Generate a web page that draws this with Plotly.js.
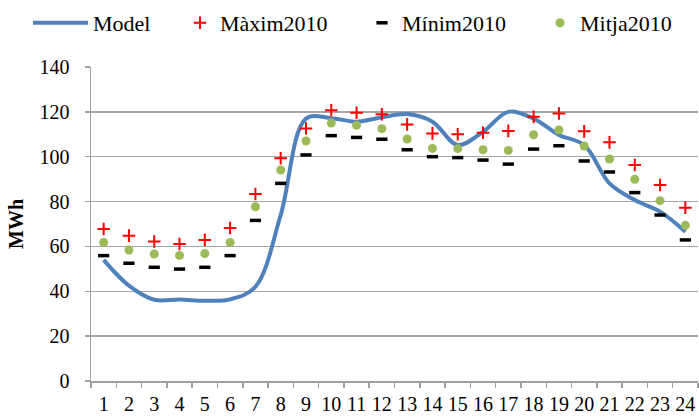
<!DOCTYPE html>
<html>
<head>
<meta charset="utf-8">
<script src="https://cdn.plot.ly/plotly-3.0.1.min.js"></script>
<style>html,body{margin:0;padding:0;background:#fff;font-family:"Liberation Serif",serif;}#chart{width:699px;height:418px;}</style>
</head>
<body>
<div id="chart"></div>
<script>
const hours = ["1","2","3","4","5","6","7","8","9","10","11","12","13","14","15","16","17","18","19","20","21","22","23","24"];
const model = [54, 42.5, 36.2, 36.3, 35.8, 36.4, 42, 74, 117, 117.2, 115.6, 117.6, 119, 115.6, 105.2, 111.1, 120, 117, 109.7, 105.2, 88.1, 80.7, 75.5, 66.6];
const maxim = [67.8, 64.8, 62.2, 61.1, 62.9, 68.2, 83.4, 99.3, 112.6, 120.7, 119.6, 118.9, 114.4, 110.4, 110, 110.7, 111.5, 117.8, 119.3, 111.3, 106.4, 96.3, 87.4, 77.3];
const minim = [55.9, 52.5, 50.7, 49.9, 50.7, 55.9, 71.6, 88.1, 100.8, 109.4, 108.6, 107.8, 103.1, 100, 99.6, 98.5, 96.7, 103.4, 104.9, 98.1, 93.2, 84, 74, 62.9];
const mitja = [61.8, 58.4, 56.6, 56, 56.8, 61.8, 77.7, 94.1, 107, 115, 114, 112.5, 107.9, 103.7, 103.6, 103.1, 102.8, 109.8, 111.9, 104.8, 99, 89.9, 80.4, 69.4];

const traces = [
  {x: hours, y: model, name: "Model", type: "scatter", mode: "lines", legend: "legend",
   line: {color: "#4F81BD", width: 4, shape: "spline", smoothing: 1}},
  {x: hours, y: maxim, name: "Màxim2010", type: "scatter", mode: "markers", legend: "legend2",
   marker: {symbol: "cross-thin", size: 9, color: "#FF0000", line: {color: "#FF0000", width: 2}}},
  {x: hours, y: minim, name: "Mínim2010", type: "scatter", mode: "markers", legend: "legend3",
   marker: {symbol: "line-ew", size: 8, color: "#000000", line: {color: "#000000", width: 3.5}}},
  {x: hours, y: mitja, name: "Mitja2010", type: "scatter", mode: "markers", legend: "legend4",
   marker: {symbol: "circle", size: 9, color: "#9BBB59"}}
];

const fam = "Liberation Serif, Times New Roman, Times, DejaVu Serif, serif";
const font = {family: fam, color: "#000", size: 20};
function leg(px, iw) {
  return {orientation: "h", xref: "container", yref: "container", x: px / 699, y: 1 - 23 / 418,
          xanchor: "left", yanchor: "middle", itemwidth: iw,
          font: {family: fam, size: 22, color: "#000"}, bgcolor: "rgba(0,0,0,0)", borderwidth: 0};
}
const layout = {
  width: 699, height: 418,
  margin: {l: 91, r: 1, t: 67, b: 37},
  paper_bgcolor: "#fff", plot_bgcolor: "#fff",
  font: font,
  showlegend: true,
  legend: leg(28, 55),
  legend2: leg(180, 30),
  legend3: leg(362, 30),
  legend4: leg(540, 30),
  xaxis: {type: "category", tickson: "boundaries", ticks: "outside", ticklen: 5, tickcolor: "#A0A0A0",
          tickwidth: 1.5, showline: true, linecolor: "#A0A0A0", linewidth: 1.5, showgrid: false,
          zeroline: false, tickfont: font, tickangle: 0, fixedrange: true, range: [-0.5, 23.5], ticklabelstandoff: 4},
  yaxis: {range: [0, 140], dtick: 20, tick0: 0, ticks: "outside", ticklen: 5, tickcolor: "#A0A0A0",
          tickwidth: 1.5, showline: true, linecolor: "#A0A0A0", linewidth: 1.5, showgrid: true,
          gridcolor: "#A6A6A6", gridwidth: 1.5, zeroline: false, tickfont: font, ticklabelstandoff: 11,
          title: {text: "<b>MWh</b>", font: {family: fam, size: 20, color: "#000"}, standoff: 10}}
};
Plotly.newPlot("chart", traces, layout, {displayModeBar: false, staticPlot: true});
</script>
</body>
</html>
